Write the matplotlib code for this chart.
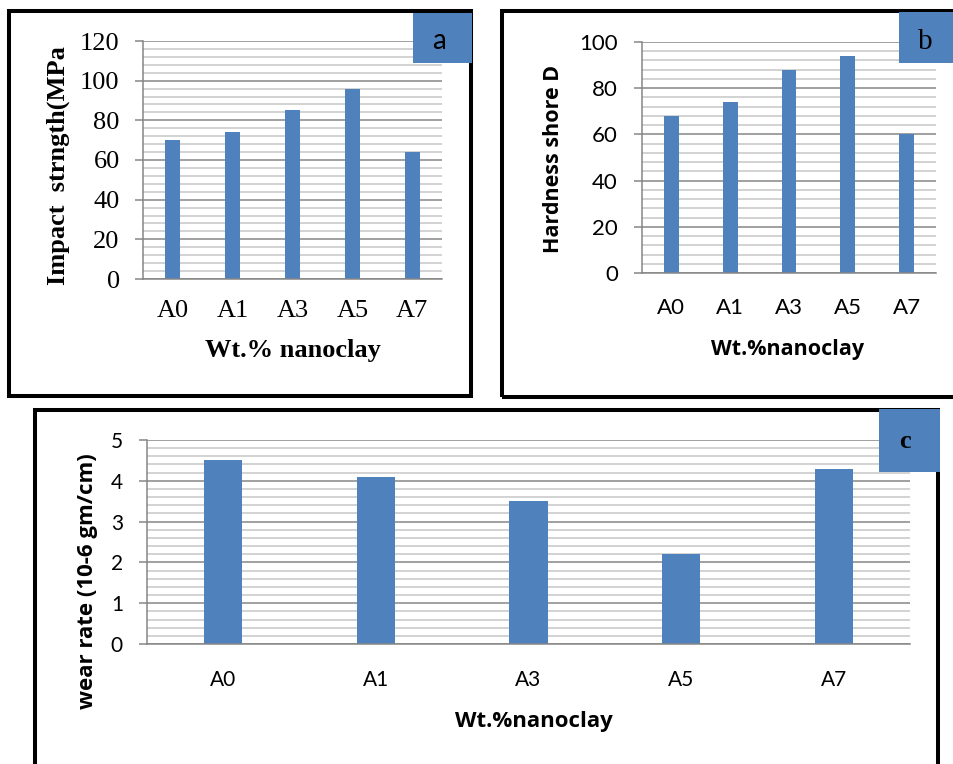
import numpy as np
import matplotlib
matplotlib.use('Agg')
import matplotlib.pyplot as plt
from matplotlib.patches import Rectangle

# data
categories = ['A0', 'A1', 'A3', 'A5', 'A7']
impact_strength = [70, 74, 85, 96, 64]
hardness = [68, 74, 88, 94, 60]
wear_rate = [4.5, 4.1, 3.5, 2.2, 4.3]

W, H = 954, 764
BAR = '#4F81BD'
MAJOR = '#868686'
MINOR = '#c6c6c6'
SERIF = 'Liberation Serif'
SANS = 'Lato'
SANS_BOLD = 'Open Sans'

fig = plt.figure(figsize=(W / 100, H / 100), dpi=100)


def fig_rect(x0, y0, x1, y1):
    # pixel box (top-left origin) -> figure fraction
    return [x0 / W, 1 - y1 / H, (x1 - x0) / W, (y1 - y0) / H]


def frame(x0, y0, x1, y1):
    l, b, w, h = fig_rect(x0, y0, x1, y1)
    fig.patches.append(Rectangle((l, b), w, h, transform=fig.transFigure,
                                 fill=False, ec='black', lw=2.9, zorder=5))


def tag(box, letter, tx, ty, family, size, weight='normal'):
    l, b, w, h = fig_rect(*box)
    fig.patches.append(Rectangle((l, b), w, h, transform=fig.transFigure,
                                 fc=BAR, ec='none', zorder=6))
    fig.text(tx / W, 1 - ty / H, letter, ha='center', va='baseline',
             family=family, fontsize=size, weight=weight, zorder=7)


def bar_panel(box, values, ymax, major, minor, family, tick_size, ypad, xpad,
              xlabel, ylabel, label_family, label_size, xlab_pos, ylab_pos):
    ax = fig.add_axes(fig_rect(*box))
    ax.set_axisbelow(True)
    x = np.arange(len(categories))
    ax.bar(x, values, width=0.25, color=BAR)
    ax.set_xlim(-0.5, len(categories) - 0.5)
    ax.set_ylim(0, ymax)

    yt = np.arange(0, ymax + major / 2, major)
    ax.set_yticks(yt, [f'{t:g}' for t in yt], family=family, fontsize=tick_size)
    ax.set_yticks(np.arange(0, ymax + minor / 2, minor), minor=True)
    ax.set_xticks(x, categories, family=family, fontsize=tick_size)

    ax.grid(which='major', axis='y', color=MAJOR, lw=1.1)
    ax.grid(which='minor', axis='y', color=MINOR, lw=1.1)
    ax.tick_params(axis='y', which='major', length=5.8, width=1.1,
                   color=MAJOR, pad=ypad)
    ax.tick_params(axis='y', which='minor', length=0)
    ax.tick_params(axis='x', length=0, pad=xpad)

    for side in ['top', 'right']:
        ax.spines[side].set_visible(False)
    for side in ['left', 'bottom']:
        ax.spines[side].set_color(MAJOR)
        ax.spines[side].set_linewidth(1.1)

    ax.set_xlabel(xlabel, family=label_family, fontsize=label_size,
                  weight='bold', va='center')
    ax.set_ylabel(ylabel, family=label_family, fontsize=label_size,
                  weight='bold', va='center')
    x0, y0, x1, y1 = box
    ax.xaxis.set_label_coords((xlab_pos[0] - x0) / (x1 - x0),
                              (y1 - xlab_pos[1]) / (y1 - y0))
    ax.yaxis.set_label_coords((ylab_pos[0] - x0) / (x1 - x0),
                              (y1 - ylab_pos[1]) / (y1 - y0))
    return ax


# panel a
frame(9, 11, 471, 396)
bar_panel((143, 41, 442, 279), impact_strength, 120, 20, 4, SERIF, 19,
          11, 15, 'Wt.% nanoclay', 'Impact  strngth(MPa', SERIF, 19,
          (293, 351), (58, 166))
tag((413, 13, 472, 63), 'a', 439, 49, SANS, 20)

# panel b
frame(502, 11, 980, 397)
bar_panel((642, 42, 936, 273), hardness, 100, 20, 4, SANS, 16,
          11.5, 18, 'Wt.%nanoclay', 'Hardness shore D', SANS_BOLD, 15.5,
          (788, 350), (554, 159))
tag((899, 12, 960, 63), 'b', 925, 49, SERIF, 21)

# panel c
frame(35, 410, 938, 800)
bar_panel((147, 440, 910, 644), wear_rate, 5, 1, 0.2, SANS, 15,
          11.5, 19, 'Wt.%nanoclay', 'wear rate (10-6 gm/cm)', SANS_BOLD, 16,
          (534, 721), (88, 581))
tag((879, 409, 940, 472), 'c', 905, 448, SERIF, 19, 'bold')

fig.savefig('out.png', dpi=100)
